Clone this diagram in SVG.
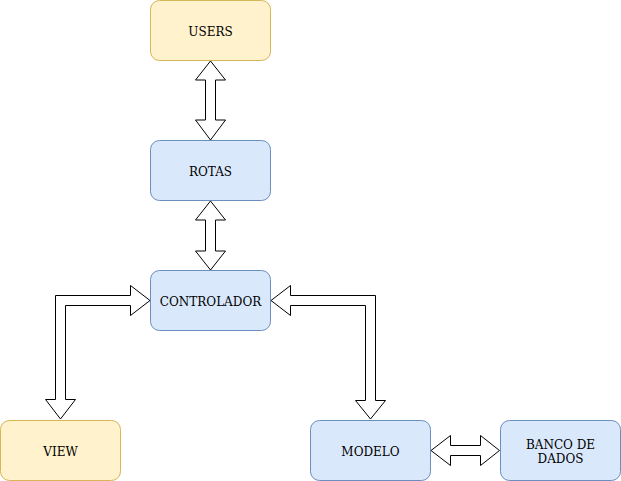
<svg xmlns="http://www.w3.org/2000/svg" width="621" height="481" viewBox="0 0 621 481">
<style>
.y{fill:#fff2cc;stroke:#d6b656;stroke-width:1}
.b{fill:#dae8fc;stroke:#6c8ebf;stroke-width:1}
.t{font-family:"DejaVu Serif",serif;font-size:12px;fill:#000;text-anchor:middle;dominant-baseline:central}
.a{fill:#fff;stroke:#000;stroke-width:1;stroke-linejoin:miter}
</style>
<rect width="621" height="481" fill="#fff"/>
<g id="connectors">
<path class="a" d="M210.5,61 L225.5,80 L215.5,80 L215.5,120 L225.5,120 L210.5,140 L195.5,120 L205.5,120 L205.5,80 L195.5,80 Z"/>
<path class="a" d="M210.5,201 L225.5,220 L215.5,220 L215.5,251 L225.5,251 L210.5,270 L195.5,251 L205.5,251 L205.5,220 L195.5,220 Z"/>
<path class="a" d="M150,300.5 L130.5,285.5 L130.5,295.5 L55.5,295.5 L55.5,399.5 L45.5,399.5 L60.5,419 L75.5,399.5 L65.5,399.5 L65.5,305.5 L130.5,305.5 L130.5,315.5 Z"/>
<path class="a" d="M271,300.5 L290.5,285.5 L290.5,295.5 L375.5,295.5 L375.5,400.5 L385.5,400.5 L370.5,419 L355.5,400.5 L365.5,400.5 L365.5,305.5 L290.5,305.5 L290.5,315.5 Z"/>
<path class="a" d="M431,450.5 L450.5,435.5 L450.5,445.5 L480.5,445.5 L480.5,435.5 L499.5,450.5 L480.5,465.5 L480.5,455.5 L450.5,455.5 L450.5,465.5 Z"/>
</g>
<g id="users"><rect class="y" x="150.5" y="0.5" width="120" height="60" rx="9"/><text class="t" x="210.5" y="32">USERS</text></g>
<g id="rotas"><rect class="b" x="150.5" y="140.5" width="120" height="60" rx="9"/><text class="t" x="210.5" y="172">ROTAS</text></g>
<g id="controlador"><rect class="b" x="150.5" y="270.5" width="120" height="60" rx="9"/><text class="t" x="210.5" y="302">CONTROLADOR</text></g>
<g id="view"><rect class="y" x="0.5" y="420.5" width="120" height="60" rx="9"/><text class="t" x="60.5" y="452">VIEW</text></g>
<g id="modelo"><rect class="b" x="310.5" y="420.5" width="120" height="60" rx="9"/><text class="t" x="370.5" y="452">MODELO</text></g>
<g id="banco"><rect class="b" x="500.5" y="420.5" width="120" height="60" rx="9"/><text class="t" x="560.5" y="445">BANCO DE</text><text class="t" x="560.5" y="459">DADOS</text></g>
</svg>
